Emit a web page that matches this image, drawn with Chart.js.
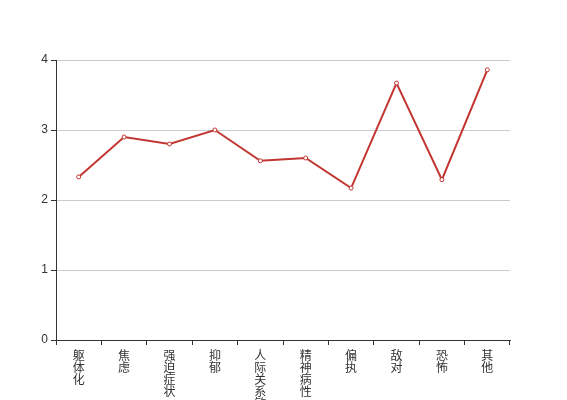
<!DOCTYPE html>
<html>
<head>
<meta charset="utf-8">
<script src="https://cdn.jsdelivr.net/npm/chart.js@4"></script>
<style>
  body { margin: 0; background: #fff; }
</style>
</head>
<body>
<canvas id="chart" width="567" height="400"></canvas>
<script>
// 因子名称与得分
const categories = ['躯体化', '焦虑', '强迫症状', '抑郁', '人际关系敏感', '精神病性', '偏执', '敌对', '恐怖', '其他'];
const scores = [2.33, 2.9, 2.8, 3.0, 2.56, 2.6, 2.17, 3.67, 2.29, 3.86];
const yTicks = [0, 1, 2, 3, 4];

// 竖排标签：每个字一行
const verticalLabels = categories.map(c => c.split(''));

const ctx = document.getElementById('chart').getContext('2d');
new Chart(ctx, {
  type: 'line',
  data: {
    labels: verticalLabels,
    datasets: [{
      data: scores,
      borderColor: '#c23531',
      borderWidth: 2,
      pointRadius: 2,
      pointBorderWidth: 1,
      pointBackgroundColor: '#fff',
      pointBorderColor: '#c23531',
      tension: 0,
      fill: false
    }]
  },
  options: {
    responsive: false,
    animation: false,
    layout: { padding: { left: 0, top: 60, right: 57, bottom: 0 } },
    plugins: { legend: { display: false }, tooltip: { enabled: false } },
    scales: {
      x: {
        offset: true,
        grid: { offset: true, drawOnChartArea: false, drawTicks: true, tickLength: 5, tickColor: '#333' },
        border: { color: '#333', width: 1 },
        ticks: {
          autoSkip: false,
          maxRotation: 0,
          padding: 4,
          color: '#333',
          font: { family: '"Noto Sans CJK SC", sans-serif', size: 12, lineHeight: 1 }
        },
        afterFit: s => { s.height = 60; }
      },
      y: {
        min: 0,
        max: 4,
        afterBuildTicks: s => { s.ticks = yTicks.map(v => ({ value: v })); },
        grid: { color: '#ccc', tickLength: 5, tickColor: '#333' },
        border: { color: '#333', width: 1 },
        ticks: {
          padding: 3,
          color: '#333',
          font: { family: '"Liberation Sans", Arial, sans-serif', size: 12 }
        },
        afterFit: s => { s.width = 56; }
      }
    }
  }
});
</script>
</body>
</html>
